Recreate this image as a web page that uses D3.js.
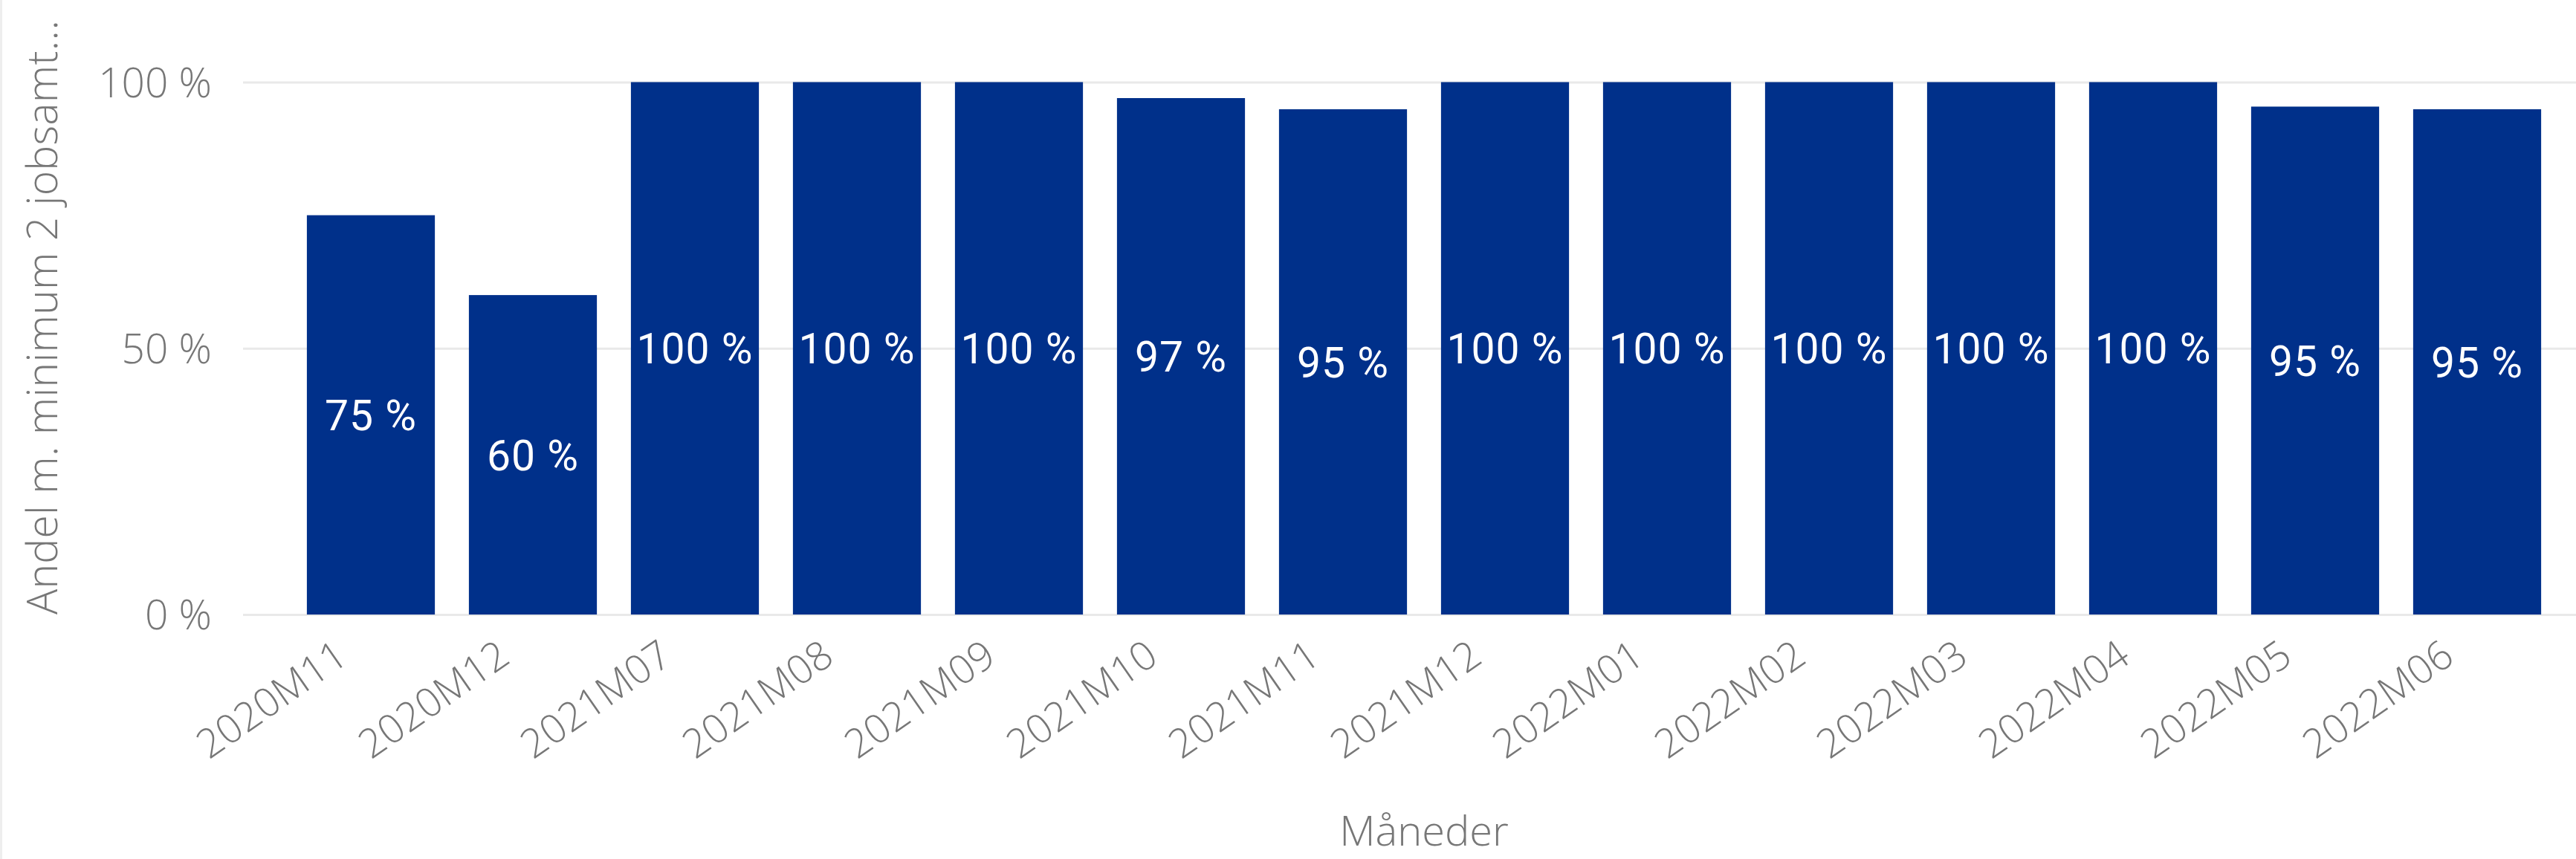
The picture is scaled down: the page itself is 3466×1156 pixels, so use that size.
<!DOCTYPE html>
<html>
<head>
<meta charset="utf-8">
<script src="https://cdn.jsdelivr.net/npm/d3@7"></script>
<style>
  html, body { margin: 0; padding: 0; background: #fff; }
  svg { display: block; }
</style>
</head>
<body>
<svg id="chart" width="3466" height="1156"></svg>
<script>
"use strict";

// data
const months = ["2020M11", "2020M12", "2021M07", "2021M08", "2021M09", "2021M10", "2021M11",
                "2021M12", "2022M01", "2022M02", "2022M03", "2022M04", "2022M05", "2022M06"];
const shares = [75, 60, 100, 100, 100, 97, 94.9, 100, 100, 100, 100, 100, 95.4, 94.9];
const yTicks = [0, 50, 100];
const yTitle = "Andel m. minimum 2 jobsamt...";
const xTitle = "Måneder";

const W = 3466, H = 1156;
const barColor = "#00308a", textGrey = "#777777", gridGrey = "#e9e9e9";
const axisFont = "'Open Sans', 'Noto Sans', sans-serif";

const svg = d3.select("#chart");

// scales
const x = d3.scaleBand()
  .domain(months)
  .range([390, 3442])
  .paddingInner(0.21)
  .paddingOuter(0.105);

const y = d3.scaleLinear()
  .domain([0, 100])
  .range([827, 110.5]);

// faint left border of the visual
svg.append("line")
  .attr("x1", 1.5).attr("x2", 1.5).attr("y1", 0).attr("y2", H)
  .attr("stroke", "#eeeeee").attr("stroke-width", 3);

// y axis + gridlines
const yAxis = svg.append("g")
  .attr("transform", "translate(327,0)")
  .call(d3.axisLeft(y)
    .tickValues(yTicks)
    .tickSize(-(W - 327))
    .tickPadding(42)
    .tickFormat(d => d + " %"));
yAxis.select(".domain").remove();
yAxis.selectAll(".tick line")
  .attr("stroke", gridGrey).attr("stroke-width", 3);
yAxis.selectAll(".tick text")
  .attr("fill", textGrey)
  .attr("font-family", axisFont)
  .attr("font-weight", 300)
  .attr("font-size", 55)
  .attr("dy", "0.36em");

// bars
svg.append("g").selectAll("rect")
  .data(months)
  .join("rect")
    .attr("x", d => x(d))
    .attr("y", (d, i) => y(shares[i]))
    .attr("width", x.bandwidth())
    .attr("height", (d, i) => y(0) - y(shares[i]))
    .attr("fill", barColor);

// data labels, centred inside the bars
svg.append("g").selectAll("text")
  .data(months)
  .join("text")
    .attr("x", d => x(d) + x.bandwidth() / 2)
    .attr("y", (d, i) => (y(shares[i]) + y(0)) / 2)
    .attr("dy", "0.36em")
    .attr("text-anchor", "middle")
    .attr("fill", "#ffffff")
    .attr("font-family", "Roboto, sans-serif")
    .attr("font-size", 57)
    .attr("letter-spacing", 1)
    .text((d, i) => Math.round(shares[i]) + " %");

// x tick labels, rotated
svg.append("g").selectAll("text")
  .data(months)
  .join("text")
    .attr("transform", d => `translate(${x(d) + x.bandwidth() / 2 - 28},890) rotate(-35)`)
    .attr("text-anchor", "end")
    .attr("fill", textGrey)
    .attr("font-family", axisFont)
    .attr("font-weight", 300)
    .attr("font-size", 54)
    .text(d => d);

// axis titles
svg.append("text")
  .attr("x", (390 + 3442) / 2)
  .attr("y", 1138)
  .attr("text-anchor", "middle")
  .attr("fill", textGrey)
  .attr("font-family", axisFont)
  .attr("font-weight", 300)
  .attr("font-size", 56)
  .text(xTitle);

svg.append("text")
  .attr("transform", "translate(77,827) rotate(-90)")
  .attr("text-anchor", "start")
  .attr("fill", textGrey)
  .attr("font-family", axisFont)
  .attr("font-weight", 300)
  .attr("font-size", 57)
  .attr("textLength", 800)
  .attr("lengthAdjust", "spacing")
  .text(yTitle);
</script>
</body>
</html>
